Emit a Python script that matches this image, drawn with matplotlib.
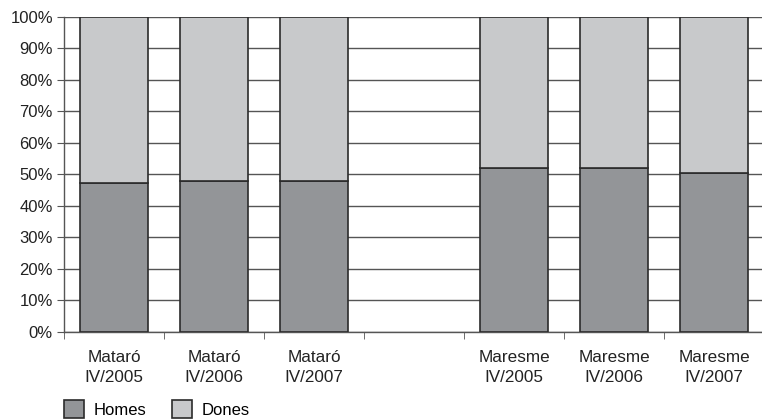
import matplotlib.pyplot as plt
from matplotlib.ticker import FuncFormatter, MultipleLocator

# data (share of men / women, %)
categories = ['Mataró\nIV/2005', 'Mataró\nIV/2006', 'Mataró\nIV/2007', '',
              'Maresme\nIV/2005', 'Maresme\nIV/2006', 'Maresme\nIV/2007']
homes = [47.3, 47.8, 47.8, 0, 52.0, 52.1, 50.5]
dones = [100 - h if h else 0 for h in homes]

dark = '#939598'
light = '#c8c9cb'
edge = '#2b2b2b'

plt.rcParams['font.family'] = ['Liberation Sans', 'DejaVu Sans']

fig = plt.figure(figsize=(7.62, 4.2), dpi=100)
ax = fig.add_axes([0.084, 0.21, 0.916, 0.75])

x = list(range(len(categories)))
shown = [i for i in x if categories[i]]
ax.bar([x[i] for i in shown], [homes[i] for i in shown], width=0.68,
       color=dark, edgecolor=edge, linewidth=1.2, label='Homes', zorder=3)
ax.bar([x[i] for i in shown], [dones[i] for i in shown], width=0.68,
       bottom=[homes[i] for i in shown], color=light, edgecolor=edge,
       linewidth=1.2, label='Dones', zorder=3)

ax.set_ylim(0, 100)
ax.set_xlim(-0.5, 6.48)
ax.yaxis.set_major_locator(MultipleLocator(10))
ax.yaxis.set_major_formatter(FuncFormatter(lambda v, p: '%d%%' % v))
ax.yaxis.grid(True, color='#555555', linewidth=1.0, zorder=0)
ax.set_axisbelow(True)

ax.set_xticks(x)
ax.set_xticklabels(categories, fontsize=12.3, color='#222222', linespacing=1.45)
ax.set_xticks([i - 0.5 for i in x], minor=True)
ax.tick_params(axis='x', which='major', length=0, pad=13)
ax.tick_params(axis='x', which='minor', length=5, color='#555555')
ax.tick_params(axis='y', length=5, color='#555555', labelsize=12,
               labelcolor='#222222', pad=3)

for s in ['top', 'right']:
    ax.spines[s].set_visible(False)
for s in ['left', 'bottom']:
    ax.spines[s].set_color('#555555')
    ax.spines[s].set_linewidth(1.0)

fig.legend(loc='upper left', bbox_to_anchor=(0.075, 0.063), ncol=2,
           frameon=False, fontsize=12, handlelength=1.2, handleheight=1.3,
           columnspacing=1.5, handletextpad=0.6, borderaxespad=0)

fig.savefig('out.png', dpi=100)
